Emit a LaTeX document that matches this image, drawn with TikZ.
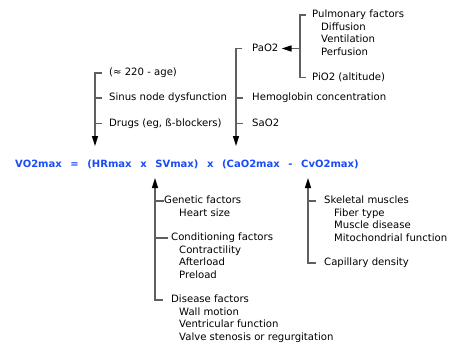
\documentclass[tikz,border=0pt]{standalone}
\usepackage{fontspec}
\setmainfont{DejaVu Sans}
\usetikzlibrary{arrows.meta,positioning}
\definecolor{eqblue}{RGB}{25,75,250}
\definecolor{linegray}{RGB}{95,95,95}

\begin{document}
\begin{tikzpicture}[
	x=1pt, y=-1pt,
	>={Triangle[length=10pt,width=6pt,color=black]},
	item/.style={anchor=west, inner sep=0pt, font=\fontsize{10.1}{12}\selectfont, text height=7.5pt, text depth=2pt},
	link/.style={draw=linegray, line width=1.5pt},
	eqn/.style={anchor=west, inner sep=0pt, text=eqblue, font=\fontsize{10}{12}\selectfont\bfseries}
]
\useasboundingbox (0,0) rectangle (454,345);

% main equation
\node[eqn] (eq) at (15,164) {\spaceskip=8.6pt VO2max = (HRmax x SVmax) x (CaO2max - CvO2max)};

% pulmonary side
\node[item] (pulm) at (312,15) {Pulmonary factors};
\node[item] (diff) at (321,27.5) {Diffusion};
\node[item] (vent) at (321,40) {Ventilation};
\node[item] (perf) at (321,52.5) {Perfusion};
\node[item] (pio2) at (312,77.5) {PiO2 (altitude)};
\coordinate (cspine) at (300,0);

% arterial O2 content
\node[item] (pao2) at (252,48.5) {PaO2};
\node[item] (hemo) at (252,98) {Hemoglobin concentration};
\node[item] (sao2) at (252,123.5) {SaO2};
\coordinate (bend) at (236,146);

% heart rate
\node[item] (age) at (109,73) {(≈ 220 - age)};
\node[item] (sinus) at (109,98) {Sinus node dysfunction};
\node[item] (drugs) at (109,123.5) {Drugs (eg, ß-blockers)};
\coordinate (aend) at (95,146);

% stroke volume
\node[item] (genetic) at (164,201) {Genetic factors};
\node[item] (heart) at (179,213.5) {Heart size};
\node[item] (cond) at (171,238) {Conditioning factors};
\node[item] (contr) at (179,250.5) {Contractility};
\node[item] (after) at (179,263) {Afterload};
\node[item] (pre) at (179,275.5) {Preload};
\node[item] (disease) at (171,300) {Disease factors};
\node[item] (wall) at (179,312.5) {Wall motion};
\node[item] (ventr) at (179,325) {Ventricular function};
\node[item] (valve) at (179,337.5) {Valve stenosis or regurgitation};
\coordinate (dend) at (155,178);

% venous O2 content
\node[item] (skel) at (324,201) {Skeletal muscles};
\node[item] (fiber) at (334,213.5) {Fiber type};
\node[item] (mdis) at (334,226) {Muscle disease};
\node[item] (mito) at (334,238.5) {Mitochondrial function};
\node[item] (capil) at (324,263) {Capillary density};
\coordinate (eend) at (308,178);

% brackets and arrows
\draw[link] ([xshift=-6pt]pulm.west) -- (pulm.west -| cspine) -- (pio2.west -| cspine) -- ([xshift=-6pt]pio2.west);
\draw[link,->] (pao2.east -| cspine) -- ([xshift=3pt]pao2.east);

\draw[link,->] ([xshift=-10pt]pao2.west) -- (pao2.west -| bend) -- (bend);
\draw[link] ([xshift=-0.7pt]hemo.west -| bend) -- ([xshift=-9pt]hemo.west);
\draw[link] ([xshift=-0.7pt]sao2.west -| bend) -- ([xshift=-9pt]sao2.west);

\draw[link,->] ([xshift=-7pt]age.west) -- (age.west -| aend) -- (aend);
\draw[link] ([xshift=-0.7pt]sinus.west -| aend) -- ([xshift=-7pt]sinus.west);
\draw[link] ([xshift=-0.7pt]drugs.west -| aend) -- ([xshift=-7pt]drugs.west);

\draw[link,->] ([xshift=-8pt]disease.west) -- (disease.west -| dend) -- (dend);
\draw[link] (genetic.west -| dend) -- (genetic.west);
\draw[link] (cond.west -| dend) -- ([xshift=-3pt]cond.west);

\draw[link,->] ([xshift=-8pt]capil.west) -- (capil.west -| eend) -- (eend);
\draw[link] (skel.west -| eend) -- ([xshift=-8pt]skel.west);

\end{tikzpicture}
\end{document}
